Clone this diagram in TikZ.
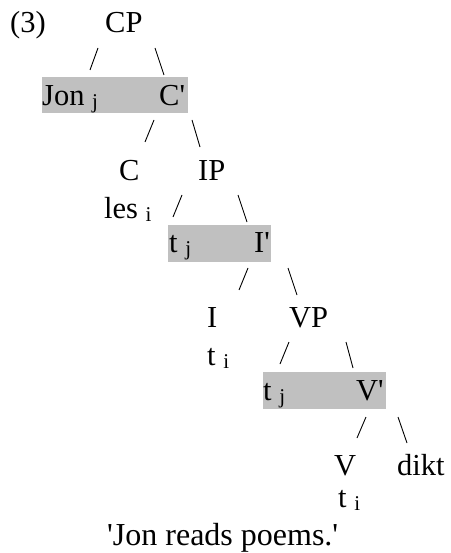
\documentclass[tikz,border=0pt]{standalone}
\usepackage{fontspec}
% a family without TeX ligatures, so ' stays a straight apostrophe
\newfontfamily\plainserif{Liberation Serif}
\definecolor{boxgray}{RGB}{192,192,192}
\newcommand{\subx}[1]{\raisebox{-3pt}{\fontsize{21}{21}\selectfont #1}}
\begin{document}
\begin{tikzpicture}[x=1pt,y=-1pt,
  lab/.style={anchor=base west, inner sep=0pt, font=\plainserif\fontsize{30.5}{34}\selectfont},
  branch/.style={line width=0.9pt}]
\useasboundingbox (0,0) rectangle (450,553);

% shaded specifier/bar-level pairs
\fill[boxgray] (42,77) rectangle (188,113);
\fill[boxgray] (168,225) rectangle (271,262);
\fill[boxgray] (263,372) rectangle (386,409);

% labels
\node[lab] (num)   at (10,33)  {(3)};
\node[lab] (cp)    at (105,33) {CP};
\node[lab] (jon)   at (42,106) {Jon \subx{j}};
\node[lab] (cbar)  at (159,106) {C'};
\node[lab] (c)     at (119,181) {C};
\node[lab] (ip)    at (198,181) {IP};
\node[lab] (les)   at (104,218) {les \subx{i}};
\node[lab] (tj1)   at (169,252) {t \subx{j}};
\node[lab] (ibar)  at (254,252) {I'};
\node[lab] (i)     at (207,327) {I};
\node[lab] (vp)    at (289,327) {VP};
\node[lab] (ti1)   at (207,365) {t \subx{i}};
\node[lab] (tj2)   at (263,400) {t \subx{j}};
\node[lab] (vbar)  at (356,400) {V'};
\node[lab] (v)     at (334,475) {V};
\node[lab] (dikt)  at (397,475) {dikt};
\node[lab] (ti2)   at (338,507) {t \subx{i}};
\node[lab, font=\plainserif\fontsize{32}{36}\selectfont] (gloss) at (107,545) {'Jon reads poems.'};

% branch strokes
\coordinate (cpL1) at (98,48);   \coordinate (cpL2) at (90,70);
\coordinate (cpR1) at (155,48);  \coordinate (cpR2) at (164,75);
\coordinate (cbL1) at (154,120); \coordinate (cbL2) at (145,142);
\coordinate (cbR1) at (192,120); \coordinate (cbR2) at (200,147);
\coordinate (ipL1) at (182,195); \coordinate (ipL2) at (173,217);
\coordinate (ipR1) at (238,195); \coordinate (ipR2) at (247,222);
\coordinate (ibL1) at (248,268); \coordinate (ibL2) at (239,290);
\coordinate (ibR1) at (288,268); \coordinate (ibR2) at (297,295);
\coordinate (vpL1) at (289,342); \coordinate (vpL2) at (280,364);
\coordinate (vpR1) at (346,342); \coordinate (vpR2) at (353,368);
\coordinate (vbL1) at (366,417); \coordinate (vbL2) at (357,438);
\coordinate (vbR1) at (398,417); \coordinate (vbR2) at (407,443);

\draw[branch] (cpL1) -- (cpL2);  \draw[branch] (cpR1) -- (cpR2);
\draw[branch] (cbL1) -- (cbL2);  \draw[branch] (cbR1) -- (cbR2);
\draw[branch] (ipL1) -- (ipL2);  \draw[branch] (ipR1) -- (ipR2);
\draw[branch] (ibL1) -- (ibL2);  \draw[branch] (ibR1) -- (ibR2);
\draw[branch] (vpL1) -- (vpL2);  \draw[branch] (vpR1) -- (vpR2);
\draw[branch] (vbL1) -- (vbL2);  \draw[branch] (vbR1) -- (vbR2);
\end{tikzpicture}
\end{document}
